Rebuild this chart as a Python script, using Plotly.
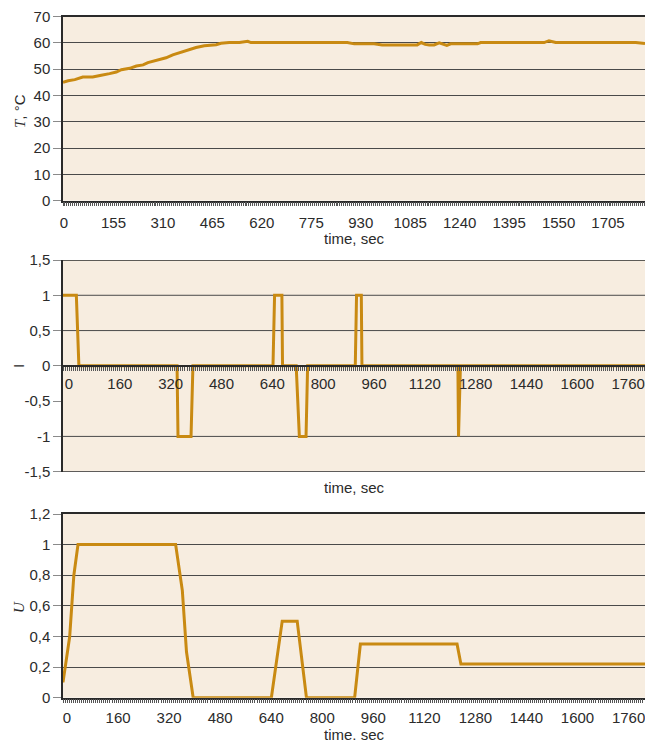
import plotly.graph_objects as go

# ---------------- data ----------------
temp_time = [0, 16, 37, 52, 62, 93, 104, 120, 146, 167, 183, 209, 230, 251, 266, 293, 323,
             344, 370, 396, 417, 443, 480, 495, 521, 553, 579, 589,
             891, 913, 975, 1000, 1110, 1123, 1135, 1148, 1163, 1179, 1203, 1215, 1299, 1309,
             1508, 1523, 1544, 1795, 1824]
temp_vals = [45.0, 45.6, 46.0, 46.6, 47.0, 47.0, 47.4, 47.7, 48.3, 48.9, 49.8, 50.3, 51.2, 51.6,
             52.5, 53.3, 54.3, 55.4, 56.4, 57.5, 58.2, 58.9, 59.3, 59.8, 60.1, 60.1, 60.6, 60.1,
             60.1, 59.6, 59.6, 59.2, 59.2, 60.1, 59.4, 59.2, 59.2, 60.0, 59.0,
             59.6, 59.6, 60.1, 60.1, 60.8, 60.1, 60.1, 59.7]

i_time = [0, 42, 50, 359, 362, 403, 409, 661, 666, 689, 691, 734, 744, 765, 770,
          920, 924, 939, 941, 1243, 1245, 1251, 1832]
i_vals = [1, 1, 0, 0, -1, -1, 0, 0, 1, 1, 0, 0, -1, -1, 0,
          0, 1, 1, 0, 0, -1, 0, 0]

u_time = [0, 21, 34, 47, 353, 374, 387, 408, 653, 687, 734, 763, 914, 932, 1235, 1247, 1824]
u_vals = [0.1, 0.4, 0.8, 1.0, 1.0, 0.7, 0.3, 0.0, 0.0, 0.5, 0.5, 0.0, 0.0, 0.35, 0.35, 0.22, 0.22]

top_xticks = [0, 155, 310, 465, 620, 775, 930, 1085, 1240, 1395, 1550, 1705]
mid_xticks = [0, 160, 320, 480, 640, 800, 960, 1120, 1280, 1440, 1600, 1760]

top_yticks = [0, 10, 20, 30, 40, 50, 60, 70]
mid_yticks = [1.5, 1, 0.5, 0, -0.5, -1, -1.5]
mid_ylabels = ["1,5", "1", "0,5", "0", "-0,5", "-1", "-1,5"]
mid_grid = [1, 0.5, -1]
bot_yticks = [0, 0.2, 0.4, 0.6, 0.8, 1.0, 1.2]
bot_ylabels = ["0", "0,2", "0,4", "0,6", "0,8", "1", "1,2"]

# ---------------- style ----------------
W, H = 645, 740
ML = 63
PW = W - ML
LINE = "#C98A12"
BG = "#F7EDE0"
GRID = "#4a4a4a"
AX = "#2a2a2a"
TXT = "#2b2b2b"
FONT = "Liberation Sans, Arial, sans-serif"
SUB = 25  # dense tick marks between labelled ticks


def py(p):
    return 1 - p / H


def px(p):
    return (p - ML) / PW


def dense_ticks(labels, xmax):
    step = (labels[1] - labels[0]) / SUB
    vals, texts = [], []
    k = 0
    while k * step <= xmax:
        v = k * step
        vals.append(v)
        texts.append(str(labels[k // SUB]) if (k % SUB == 0 and k // SUB < len(labels)) else "")
        k += 1
    return vals, texts


top_dom = [py(200.7), py(16.5)]
mid_dom = [py(471.7), py(260)]
bot_dom = [py(697.7), py(514)]
mid_axis_pos = mid_dom[0] + (mid_dom[1] - mid_dom[0]) * 0.5

fig = go.Figure()
fig.add_trace(go.Scatter(x=temp_time, y=temp_vals, mode="lines",
                         line=dict(color=LINE, width=3), xaxis="x", yaxis="y"))
fig.add_trace(go.Scatter(x=i_time, y=i_vals, mode="lines",
                         line=dict(color=LINE, width=3), xaxis="x2", yaxis="y2"))
fig.add_trace(go.Scatter(x=u_time, y=u_vals, mode="lines",
                         line=dict(color=LINE, width=3), xaxis="x3", yaxis="y3"))

xcommon = dict(tickmode="array", ticks="outside", ticklen=4, tickcolor="#555", tickwidth=1,
               showgrid=False, zeroline=False, ticklabeloverflow="allow",
               showline=True, linecolor=AX, linewidth=1.5, automargin=False,
               tickfont=dict(family=FONT, size=15, color=TXT))
ycommon = dict(ticks="outside", ticklen=8, tickcolor="#8a8a8a", tickwidth=1.3,
               showline=True, linecolor=AX, linewidth=1.5, zeroline=False,
               automargin=False, tickfont=dict(family=FONT, size=15, color=TXT),
               gridcolor=GRID, gridwidth=1)

tv1, tt1 = dense_ticks(top_xticks, 1824)
tv2, tt2 = dense_ticks(mid_xticks, 1832)
tv3, tt3 = dense_ticks(mid_xticks, 1824)

fig.update_layout(
    template="none",
    width=W, height=H,
    margin=dict(l=ML, r=0, t=0, b=0, autoexpand=False),
    paper_bgcolor="white",
    plot_bgcolor=BG,
    showlegend=False,
    xaxis=dict(xcommon, domain=[0, 1], anchor="y", range=[0, 1824],
               tickvals=tv1, ticktext=tt1,
               mirror=True, ticklabelstandoff=4, ticklabelshift=1),
    yaxis=dict(ycommon, domain=top_dom, anchor="x", range=[0, 70],
               tickmode="array", tickvals=top_yticks,
               ticktext=[str(v) for v in top_yticks], showgrid=True),
    xaxis2=dict(xcommon, domain=[0, 1], anchor="free", position=mid_axis_pos,
                range=[0, 1832], tickvals=tv2, ticktext=tt2,
                ticklabelstandoff=0, ticklabelshift=6),
    yaxis2=dict(ycommon, domain=mid_dom, anchor="x2", range=[-1.5, 1.5],
                tickmode="array", tickvals=mid_yticks, ticktext=mid_ylabels,
                showgrid=False),
    xaxis3=dict(xcommon, domain=[0, 1], anchor="y3", range=[0, 1824],
                tickvals=tv3, ticktext=tt3,
                mirror=True, ticklabelstandoff=2, ticklabelshift=4),
    yaxis3=dict(ycommon, domain=bot_dom, anchor="x3", range=[0, 1.2],
                tickmode="array", tickvals=bot_yticks, ticktext=bot_ylabels,
                showgrid=True),
)

shapes = []
for g in mid_grid:
    shapes.append(dict(type="line", xref="x2 domain", yref="y2", x0=0, x1=1, y0=g, y1=g,
                       line=dict(color=GRID, width=1), layer="below"))
for b in [1.5, -1.5]:
    shapes.append(dict(type="line", xref="x2 domain", yref="y2", x0=0, x1=1, y0=b, y1=b,
                       line=dict(color=AX, width=1.5), layer="above"))
fig.update_layout(shapes=shapes)

tfont = dict(family=FONT, size=15, color=TXT)
ann = []
ann.append(dict(text="<span style='font-family:Liberation Serif, Times New Roman, serif'><i>T</i></span>, °C",
                xref="paper", yref="paper", x=px(19), y=py(111), textangle=-90,
                showarrow=False, font=tfont, xanchor="center", yanchor="middle"))
ann.append(dict(text="I", xref="paper", yref="paper", x=px(18), y=py(366), textangle=-90,
                showarrow=False, font=tfont, xanchor="center", yanchor="middle"))
ann.append(dict(text="<i>U</i>", xref="paper", yref="paper", x=px(19), y=py(607), textangle=-90,
                showarrow=False, font=dict(family="Liberation Serif, Times New Roman, serif", size=15, color=TXT),
                xanchor="center", yanchor="middle"))
for yy in [239, 487, 734]:
    ann.append(dict(text="time, sec", xref="paper", yref="paper", x=px(354), y=py(yy),
                    showarrow=False, font=tfont, xanchor="center", yanchor="middle"))
fig.update_layout(annotations=ann)

fig.write_html("out.html")
